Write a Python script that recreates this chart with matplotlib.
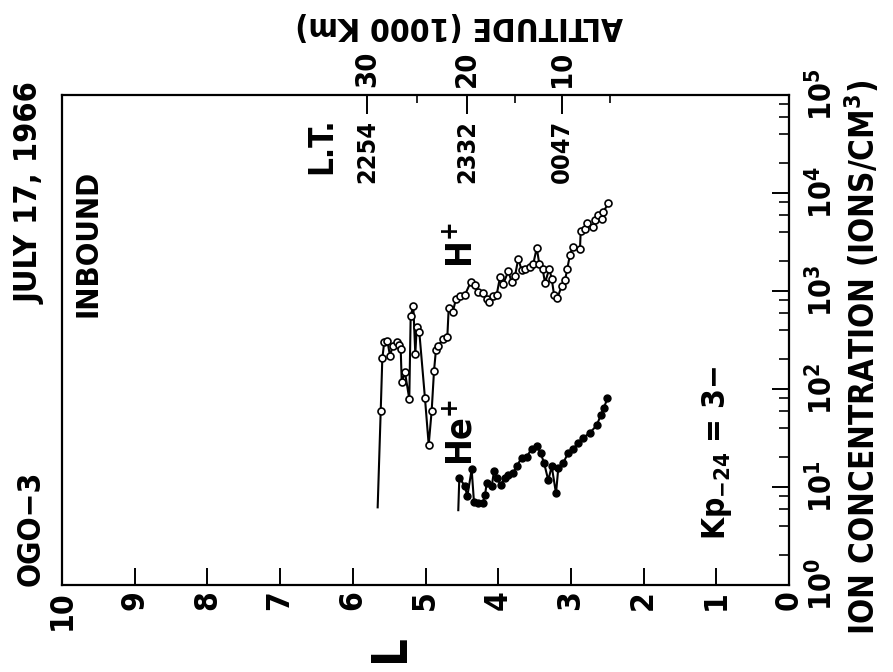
import matplotlib
matplotlib.use('Agg')
import matplotlib.pyplot as plt
import matplotlib.transforms as mtransforms
from matplotlib import font_manager
from matplotlib.ticker import LogLocator, NullFormatter, FixedLocator

# look for a narrow / condensed bold sans; otherwise shrink the normal one
FONT, STRETCH, K = 'Liberation Sans', 'normal', 0.86
fonts = font_manager.fontManager.ttflist
narrow = [f for f in fonts if f.name == 'Liberation Sans Narrow']
cond = [f for f in fonts if f.stretch in ('condensed', 'semi-condensed')
        and f.name in ('DejaVu Sans', 'Roboto', 'Open Sans', 'Noto Sans', 'Roboto Condensed')]
if narrow:
    FONT, K = 'Liberation Sans Narrow', 1.0
elif cond:
    FONT, STRETCH, K = cond[0].name, cond[0].stretch, 0.95
plt.rcParams['font.family'] = [FONT, 'DejaVu Sans']
plt.rcParams['font.weight'] = 'bold'
plt.rcParams['font.stretch'] = STRETCH
plt.rcParams['mathtext.fontset'] = 'custom'
plt.rcParams['mathtext.rm'] = FONT + ':bold'
plt.rcParams['mathtext.it'] = FONT + ':bold'
plt.rcParams['mathtext.bf'] = FONT + ':bold'
plt.rcParams['mathtext.default'] = 'rm'

# H+ profile (L shell, ions/cm^3); first entry is the bare line start
h_L = [5.658, 5.616, 5.594, 5.567, 5.525, 5.488, 5.451, 5.396, 5.360, 5.341, 5.327,
       5.282, 5.223, 5.204, 5.168, 5.140, 5.121, 5.085, 5.007, 4.956, 4.915, 4.883,
       4.856, 4.824, 4.755, 4.700, 4.681, 4.626, 4.580, 4.525, 4.457, 4.378, 4.319,
       4.282, 4.213, 4.158, 4.122, 4.076, 4.021, 3.975, 3.930, 3.861, 3.814, 3.769,
       3.724, 3.677, 3.631, 3.563, 3.517, 3.470, 3.435, 3.388, 3.356, 3.297, 3.264,
       3.232, 3.187, 3.127, 3.081, 3.050, 3.012, 2.975, 2.875, 2.865, 2.806, 2.783,
       2.692, 2.669, 2.623, 2.576, 2.554, 2.486]
h_n = [6.2, 60, 205, 304, 311, 218, 277, 299, 281, 256, 117,
       148, 79, 553, 710, 227, 427, 379, 80, 27, 60, 153,
       252, 277, 324, 337, 668, 608, 832, 899, 914, 1233, 1138,
       975, 959, 832, 780, 899, 914, 1388, 1186, 1585, 1233, 1422,
       2138, 1622, 1687, 1758, 1900, 2752, 1900, 1660, 1213, 1687, 1334,
       914, 846, 1122, 1282, 1687, 2350, 2818, 2705, 4074, 4335, 5000,
       4519, 5277, 5940, 5404, 6430, 7822]

# He+ profile
he_L = [4.549, 4.535, 4.457, 4.425, 4.365, 4.333, 4.274, 4.213, 4.182, 4.158, 4.089,
        4.058, 4.021, 3.966, 3.906, 3.861, 3.792, 3.746, 3.677, 3.608, 3.539, 3.462,
        3.415, 3.370, 3.311, 3.264, 3.205, 3.173, 3.104, 3.036, 2.975, 2.898, 2.829,
        2.737, 2.645, 2.590, 2.545, 2.499]
he_n = [5.8, 12.4, 10.2, 8.0, 15.1, 7.0, 6.8, 6.9, 8.2, 11.0, 10.2,
        14.5, 12.4, 10.6, 12.4, 13.4, 13.9, 16.3, 19.9, 20.3, 24.6, 26.1,
        22.0, 17.7, 11.7, 16.3, 8.6, 15.7, 17.7, 22.4, 24.2, 28.3, 31.8,
        35.8, 42.6, 53.9, 64.6, 80]

# top axis: altitude (1000 km) and local time at L positions
alt_labels = ['30', '20', '10']
alt_L = [5.80, 4.43, 3.12]
alt_minor_L = [5.12, 3.77, 2.46]
lt_labels = ['2254', '2332', '0047']

L_ticks = list(range(0, 11))
conc_ticks = [1e0, 1e1, 1e2, 1e3, 1e4, 1e5]
conc_labels = [r'$10^{%d}$' % k for k in range(6)]

W, H = 893, 672
fig = plt.figure(figsize=(W / 100, H / 100), dpi=100)
ax = fig.add_axes([62 / W, 87 / H, 727 / W, 490 / H])


def px(x, y):
    return x / W, 1 - y / H


ax.plot(h_L, h_n, color='black', lw=1.5, zorder=2)
ax.plot(h_L[1:], h_n[1:], 'o', ms=5, mfc='white', mec='black', mew=1.2, zorder=3)
ax.plot(he_L, he_n, color='black', lw=1.5, zorder=2)
ax.plot(he_L[1:], he_n[1:], 'o', ms=5, mfc='black', mec='black', zorder=3)

ax.set_xlim(10, 0)
ax.set_yscale('log')
ax.set_ylim(1, 1e5)
for s in ax.spines.values():
    s.set_linewidth(1.6)

ax.set_xticks(L_ticks)
ax.set_xticklabels([str(v) for v in L_ticks], rotation=90, fontsize=24 * K)
ax.tick_params(axis='x', direction='in', length=12, width=1.4, pad=4, top=False)

ax.yaxis.tick_right()
ax.set_yticks(conc_ticks)
ax.set_yticklabels(conc_labels, rotation=90, fontsize=23 * K, va='center')
ax.yaxis.set_minor_locator(LogLocator(base=10, subs=(2, 4, 6, 8)))
ax.yaxis.set_minor_formatter(NullFormatter())
ax.tick_params(axis='y', which='major', direction='in', length=12, width=1.4, pad=12,
               left=False, right=True)
ax.tick_params(axis='y', which='minor', direction='in', length=7, width=1.2,
               left=False, right=True)

top = ax.twiny()
top.set_xlim(ax.get_xlim())
top.set_xticks(alt_L)
top.set_xticklabels(alt_labels, rotation=90, fontsize=22 * K)
top.xaxis.set_minor_locator(FixedLocator(alt_minor_L))
top.tick_params(axis='x', which='major', direction='in', length=14, width=1.4, pad=6)
top.tick_params(axis='x', which='minor', direction='in', length=6, width=1.2)
for s in top.spines.values():
    s.set_visible(False)

trans = mtransforms.blended_transform_factory(ax.transData, ax.transAxes)
for xv, lab in zip(alt_L, lt_labels):
    ax.text(xv, 0.949, lab, transform=trans, rotation=90, ha='center', va='top', fontsize=19 * K)

fig.text(*px(322, 146), 'L.T.', rotation=90, ha='center', va='center', fontsize=25 * K)
fig.text(*px(459, 25), 'ALTITUDE (1000 Km)', rotation=180, ha='center', va='center',
         fontsize=24 * K)
fig.text(*px(30, 193), 'JULY 17, 1966', rotation=90, ha='center', va='center', fontsize=24.5 * K)
fig.text(*px(88, 243), 'INBOUND', rotation=90, ha='center', va='center', fontsize=23.5 * K)
fig.text(*px(31, 528), 'OGO\u22123', rotation=90, ha='center', va='center', fontsize=24 * K)
fig.text(*px(390, 648), 'L', rotation=90, ha='center', va='center', fontsize=35)
fig.text(*px(863, 357), 'ION CONCENTRATION (IONS/CM$^{3}$)', rotation=90,
         ha='center', va='center', fontsize=25 * K)
fig.text(*px(462, 245), 'H$^{+}$', rotation=90, ha='center', va='center', fontsize=27 * K)
fig.text(*px(462, 432), 'He$^{+}$', rotation=90, ha='center', va='center', fontsize=27 * K)
fig.text(*px(717, 453), 'Kp$_{-24}$ = 3\u2212', rotation=90, ha='center', va='center', fontsize=24 * K)

fig.savefig('out.png', dpi=100)
